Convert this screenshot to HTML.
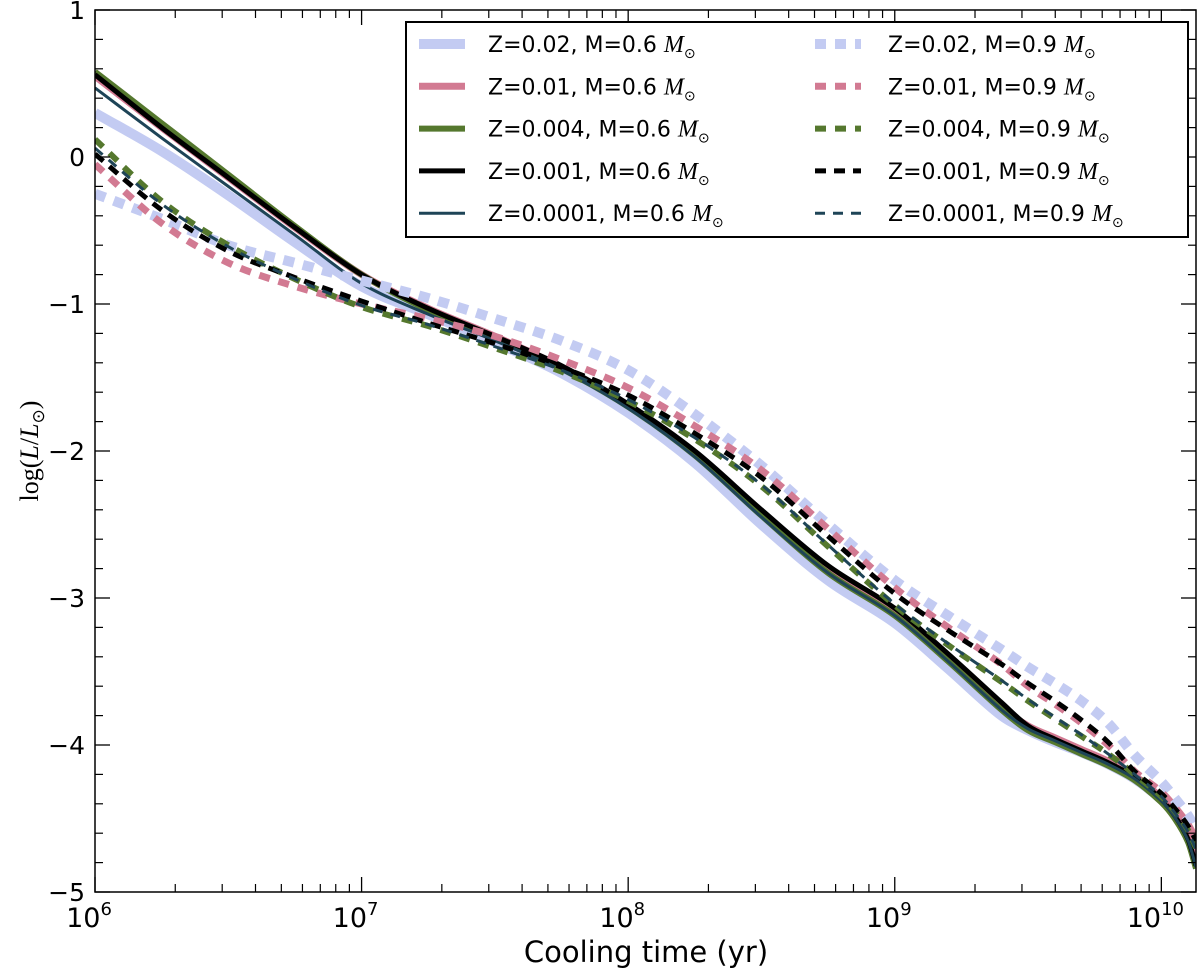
<!DOCTYPE html>
<html><head><meta charset="utf-8"><style>
body{margin:0;background:#fff;}
svg text{font-family:"Liberation Sans",sans-serif;}
</style></head><body>
<svg id="chart" width="1200" height="972" xmlns="http://www.w3.org/2000/svg">
<g id="series"></g>
<g id="axes"></g>
<text x="646" y="962" font-size="29" text-anchor="middle" style="font-family:'DejaVu Sans',sans-serif">Cooling time (yr)</text>
<text transform="translate(38,451) rotate(-90)" font-size="26" text-anchor="middle" style="font-family:'Liberation Serif',serif">log(<tspan font-style="italic">L</tspan>/<tspan font-style="italic">L</tspan><tspan font-size="17" dy="6">⊙</tspan><tspan dy="-6">)</tspan></text>
<g id="legend"></g>
</svg>
<script>
const logT = [6,6.25,6.5,6.75,7,7.25,7.5,7.75,8,8.25,8.5,8.75,9,9.2,9.4,9.5,9.6,9.7,9.8,9.9,10,10.05,10.1,10.13];
const solidZ002 = [0.3,0.04,-0.26,-0.58,-0.88,-1.07,-1.26,-1.47,-1.74,-2.08,-2.5,-2.88,-3.17,-3.48,-3.8,-3.9,-3.98,-4.05,-4.13,-4.23,-4.37,-4.47,-4.61,-4.76];
const solidZ001 = [0.55,0.2,-0.14,-0.48,-0.8,-1.03,-1.22,-1.43,-1.69,-2.02,-2.42,-2.8,-3.1,-3.41,-3.74,-3.87,-3.95,-4.03,-4.11,-4.21,-4.36,-4.47,-4.62,-4.8];
const solidZ0004 = [0.58,0.23,-0.12,-0.47,-0.8,-1.04,-1.23,-1.44,-1.7,-2.03,-2.44,-2.83,-3.12,-3.43,-3.76,-3.9,-3.98,-4.06,-4.14,-4.24,-4.39,-4.5,-4.66,-4.84];
const solidZ0001 = [0.56,0.2,-0.14,-0.48,-0.8,-1.03,-1.22,-1.42,-1.68,-2.0,-2.4,-2.78,-3.07,-3.38,-3.71,-3.87,-3.96,-4.04,-4.12,-4.22,-4.37,-4.48,-4.64,-4.82];
const solidZ00001 = [0.47,0.13,-0.2,-0.53,-0.86,-1.07,-1.25,-1.45,-1.71,-2.04,-2.45,-2.83,-3.12,-3.43,-3.76,-3.89,-3.97,-4.05,-4.13,-4.23,-4.38,-4.49,-4.65,-4.83];
const dashZ002 = [-0.25,-0.42,-0.6,-0.72,-0.84,-0.96,-1.1,-1.25,-1.45,-1.75,-2.1,-2.5,-2.88,-3.12,-3.35,-3.47,-3.58,-3.7,-3.85,-4.07,-4.25,-4.36,-4.48,-4.58];
const dashZ001 = [-0.05,-0.45,-0.72,-0.88,-1.0,-1.1,-1.22,-1.38,-1.57,-1.83,-2.13,-2.53,-2.93,-3.2,-3.45,-3.6,-3.72,-3.85,-4.0,-4.18,-4.32,-4.42,-4.54,-4.64];
const dashZ0004 = [0.12,-0.3,-0.6,-0.83,-1.02,-1.15,-1.3,-1.46,-1.66,-1.92,-2.24,-2.65,-3.05,-3.32,-3.57,-3.7,-3.82,-3.94,-4.06,-4.2,-4.35,-4.45,-4.58,-4.7];
const dashZ0001 = [0.02,-0.36,-0.64,-0.82,-0.98,-1.13,-1.27,-1.43,-1.62,-1.88,-2.18,-2.58,-2.97,-3.22,-3.45,-3.58,-3.7,-3.83,-3.98,-4.18,-4.33,-4.43,-4.55,-4.65];
const dashZ00001 = [0.06,-0.32,-0.61,-0.83,-1.01,-1.14,-1.29,-1.45,-1.65,-1.91,-2.23,-2.64,-3.04,-3.31,-3.56,-3.69,-3.81,-3.93,-4.06,-4.2,-4.35,-4.46,-4.59,-4.71];
const seriesLabels = ["Z=0.02","Z=0.01","Z=0.004","Z=0.001","Z=0.0001"];
const yTicks = [1,0,-1,-2,-3,-4,-5];
const yTickLabels = ["1","0","\u22121","\u22122","\u22123","\u22124","\u22125"];
const xDecades = [6,7,8,9,10];

const L=95,R=1196,T=10,B=892, xmin=6, xmax=10.13, ymin=-5, ymax=1;
const sx=v=>L+(v-xmin)/(xmax-xmin)*(R-L);
const sy=v=>B-(v-ymin)/(ymax-ymin)*(B-T);
const NS="http://www.w3.org/2000/svg";
function mk(tag,attrs,parent){const e=document.createElementNS(NS,tag);for(const k in attrs)e.setAttribute(k,attrs[k]);parent.appendChild(e);return e;}
function pathD(xs,ys){
  const p=xs.map((x,i)=>[sx(x),sy(ys[i])]);
  let d=`M${p[0][0]},${p[0][1]}`;
  for(let i=0;i<p.length-1;i++){
    const p0=p[Math.max(0,i-1)],p1=p[i],p2=p[i+1],p3=p[Math.min(p.length-1,i+2)];
    const t1=(p2[0]-p1[0])/(p2[0]-p0[0]||1), t2=(p2[0]-p1[0])/(p3[0]-p1[0]||1);
    d+=` C${p1[0]+(p2[0]-p0[0])*t1/3},${p1[1]+(p2[1]-p0[1])*t1/3} ${p2[0]-(p3[0]-p1[0])*t2/3},${p2[1]-(p3[1]-p1[1])*t2/3} ${p2[0]},${p2[1]}`;
  }
  return d;
}
const styles=[{c:"#c3cbf2",w:10,da:"11,9"},{c:"#d27a92",w:7,da:"11,9"},{c:"#55782e",w:6,da:"11,9"},{c:"#000",w:5,da:"11,8"},{c:"#1e4457",w:3,da:"10,8"}];
const solids=[solidZ002,solidZ001,solidZ0004,solidZ0001,solidZ00001];
const dashes=[dashZ002,dashZ001,dashZ0004,dashZ0001,dashZ00001];
const sg=document.getElementById('series');
const clip=mk('clipPath',{id:'pc'},sg);mk('rect',{x:L,y:T,width:R-L,height:B-T},clip);
const cg=mk('g',{'clip-path':'url(#pc)'},sg);
solids.forEach((ys,i)=>{
  const e=mk('path',{d:pathD(logT,ys),fill:'none',stroke:styles[i].c,'stroke-width':styles[i].w},cg);
  
  
});
dashes.forEach((ys,i)=>{
  const e=mk('path',{d:pathD(logT,ys),fill:'none',stroke:styles[i].c,'stroke-width':styles[i].w,'stroke-dasharray':styles[i].da},cg);
  
  
});
const ag=document.getElementById('axes');
mk('rect',{x:L,y:T,width:R-L,height:B-T,fill:'none',stroke:'#000','stroke-width':1.5},ag);
xDecades.forEach(d=>{
  const x=sx(d);
  mk('line',{x1:x,x2:x,y1:B,y2:B-15,stroke:'#000','stroke-width':1.3},ag);
  mk('line',{x1:x,x2:x,y1:T,y2:T+15,stroke:'#000','stroke-width':1.3},ag);
  const t=mk('text',{x:x-6,y:927,'font-size':27,'text-anchor':'middle',style:"font-family:'DejaVu Sans',sans-serif"},ag);
  t.textContent='10';
  const s=mk('tspan',{dy:-12,'font-size':18},t);s.textContent=String(d);
  
  
  for(let m=2;m<10;m++){const v=d+Math.log10(m);if(v>xmax)break;const xm=sx(v);
    mk('line',{x1:xm,x2:xm,y1:B,y2:B-8,stroke:'#000','stroke-width':1.2},ag);
    mk('line',{x1:xm,x2:xm,y1:T,y2:T+8,stroke:'#000','stroke-width':1.2},ag);}
});
yTicks.forEach((v,i)=>{
  const y=sy(v);
  mk('line',{x1:L,x2:L+15,y1:y,y2:y,stroke:'#000','stroke-width':1.3},ag);
  mk('line',{x1:R,x2:R-15,y1:y,y2:y,stroke:'#000','stroke-width':1.3},ag);
  const t=mk('text',{x:85,y:y+9,'font-size':25,'text-anchor':'end',style:"font-family:'DejaVu Sans',sans-serif"},ag);t.textContent=yTickLabels[i];
  
  
  if(i<yTicks.length-1)for(let k=1;k<5;k++){const ym=sy(v-k*0.2);
    mk('line',{x1:L,x2:L+8,y1:ym,y2:ym,stroke:'#000','stroke-width':1.2},ag);
    mk('line',{x1:R,x2:R-8,y1:ym,y2:ym,stroke:'#000','stroke-width':1.2},ag);}
});
const lg=document.getElementById('legend');
mk('rect',{x:406,y:22,width:782,height:215,fill:'#fff',stroke:'#000','stroke-width':2},lg);
seriesLabels.forEach((lab,i)=>{
  const y=44+i*42.3;
  [[419,488,'0.6',false],[815,888,'0.9',true]].forEach(([lx,tx,m,dash])=>{
    const a={x1:lx,x2:lx+46,y1:y,y2:y,stroke:styles[i].c,'stroke-width':styles[i].w};
    if(dash)a['stroke-dasharray']=styles[i].da;
    const ln=mk('line',a,lg);
    
    
    const t=mk('text',{x:tx,y:y+8,'font-size':22,style:"font-family:'DejaVu Sans',sans-serif"},lg);
    
    
    t.appendChild(document.createTextNode(lab+', M='+m+' '));
    const s=mk('tspan',{style:"font-family:'Liberation Serif',serif",'font-style':'italic','font-size':24},t);s.textContent='M';
    const s2=mk('tspan',{'font-size':14,dy:6},t);s2.textContent='⊙';
  });
});
</script>
</body></html>
